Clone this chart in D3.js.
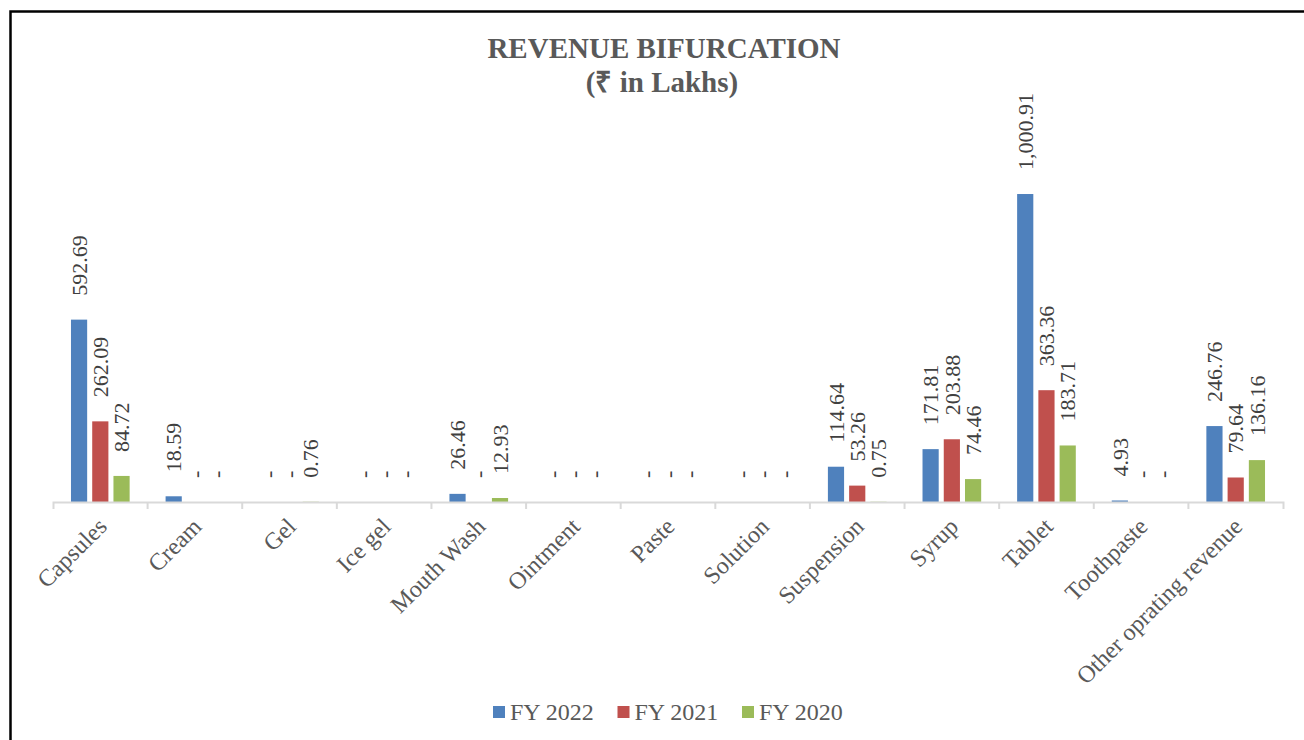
<!DOCTYPE html>
<html>
<head>
<meta charset="utf-8">
<script src="https://cdn.jsdelivr.net/npm/d3@7/dist/d3.min.js"></script>
<style>
  body { margin: 0; background: #fff; }
  svg { display: block; font-family: "Liberation Serif", "Times New Roman", serif; }
</style>
</head>
<body>
<div id="chart"></div>
<script>
// categories and series
var categories = ["Capsules", "Cream", "Gel", "Ice gel", "Mouth Wash", "Ointment", "Paste",
  "Solution", "Suspension", "Syrup", "Tablet", "Toothpaste", "Other oprating revenue"];
var seriesNames = ["FY 2022", "FY 2021", "FY 2020"];
var fy2022 = [592.69, 18.59, 0, 0, 26.46, 0, 0, 0, 114.64, 171.81, 1000.91, 4.93, 246.76];
var fy2021 = [262.09, 0, 0, 0, 0, 0, 0, 0, 53.26, 203.88, 363.36, 0, 79.64];
var fy2020 = [84.72, 0, 0.76, 0, 12.93, 0, 0, 0, 0.75, 74.46, 183.71, 0, 136.16];
var colors = ["#4f81bd", "#c0504d", "#9bbb59"];

var width = 1304, height = 740;
var axisY = 502;

var svg = d3.select("#chart").append("svg")
    .attr("width", width)
    .attr("height", height);

// outer frame (right and bottom edges fall outside the picture)
svg.append("rect")
    .attr("x", 10.5).attr("y", 11.5)
    .attr("width", 1320).attr("height", 760)
    .attr("fill", "none")
    .attr("stroke", "#000")
    .attr("stroke-width", 2.5);

svg.append("text")
    .attr("x", 664).attr("y", 58)
    .attr("text-anchor", "middle")
    .attr("font-weight", "bold")
    .attr("font-size", 29)
    .attr("fill", "#595959")
    .text("REVENUE BIFURCATION");

svg.append("text")
    .attr("x", 662).attr("y", 92)
    .attr("text-anchor", "middle")
    .attr("font-weight", "bold")
    .attr("font-size", 29)
    .attr("fill", "#595959")
    .text("(₹ in Lakhs)");

var x = d3.scaleBand()
    .domain(categories)
    .range([53, 1283]);

var bw = x.bandwidth();
var xs = d3.scaleBand()
    .domain(seriesNames)
    .range([bw * 0.19, bw * 0.81])
    .paddingInner(5 / 21);

var y = d3.scaleLinear()
    .domain([0, 1200])
    .range([axisY, axisY - 1200 * 0.3077]);

var table = categories.map(function (c, i) {
    return {cat: c, values: [fy2022[i], fy2021[i], fy2020[i]]};
});

var fmt = d3.format(",.2f");

var groups = svg.selectAll(".grp")
    .data(table)
    .enter().append("g")
    .attr("class", "grp")
    .attr("transform", function (d) { return "translate(" + x(d.cat) + ",0)"; });

groups.selectAll("rect")
    .data(function (d) {
        return d.values.map(function (v, j) { return {s: seriesNames[j], v: v, j: j}; });
    })
    .enter().append("rect")
    .attr("x", function (d) { return xs(d.s); })
    .attr("width", xs.bandwidth())
    .attr("y", function (d) { return y(d.v); })
    .attr("height", function (d) { return axisY - y(d.v); })
    .attr("fill", function (d) { return colors[d.j]; });

groups.selectAll(".lbl")
    .data(function (d) {
        return d.values.map(function (v, j) { return {s: seriesNames[j], v: v}; });
    })
    .enter().append("text")
    .attr("class", "lbl")
    .attr("transform", function (d) {
        return "translate(" + (xs(d.s) + xs.bandwidth() / 2) + "," + (y(d.v) - 24) + ") rotate(-90)";
    })
    .attr("dy", "0.35em")
    .attr("font-family", "Liberation Serif, Times New Roman, serif")
    .attr("font-size", 22)
    .attr("fill", "#404040")
    .text(function (d) { return d.v === 0 ? "-" : fmt(d.v); });

// category axis
var xAxis = d3.axisBottom(x).tickSize(0).tickSizeOuter(7);
var ax = svg.append("g")
    .attr("transform", "translate(0," + axisY + ")")
    .call(xAxis);

ax.select(".domain")
    .attr("stroke", "#d9d9d9")
    .attr("stroke-width", 2);

ax.selectAll(".tick text")
    .attr("font-family", "Liberation Serif, Times New Roman, serif")
    .attr("font-size", 24)
    .attr("fill", "#595959")
    .attr("text-anchor", "end")
    .attr("y", 0)
    .attr("dy", 0)
    .attr("transform", "translate(8,26) rotate(-45)");

// boundary ticks between categories
ax.selectAll(".sep")
    .data(categories.slice(1))
    .enter().append("line")
    .attr("class", "sep")
    .attr("x1", function (d) { return x(d); })
    .attr("x2", function (d) { return x(d); })
    .attr("y1", 0).attr("y2", 7)
    .attr("stroke", "#d9d9d9")
    .attr("stroke-width", 2);

// legend
var legend = svg.selectAll(".leg")
    .data(seriesNames)
    .enter().append("g")
    .attr("class", "leg")
    .attr("transform", function (d, i) { return "translate(" + (493 + i * 124.5) + ",706)"; });

legend.append("rect")
    .attr("width", 12).attr("height", 12)
    .attr("fill", function (d, i) { return colors[i]; });

legend.append("text")
    .attr("x", 17).attr("y", 14)
    .attr("font-size", 24)
    .attr("fill", "#595959")
    .text(function (d) { return d; });
</script>
</body>
</html>
